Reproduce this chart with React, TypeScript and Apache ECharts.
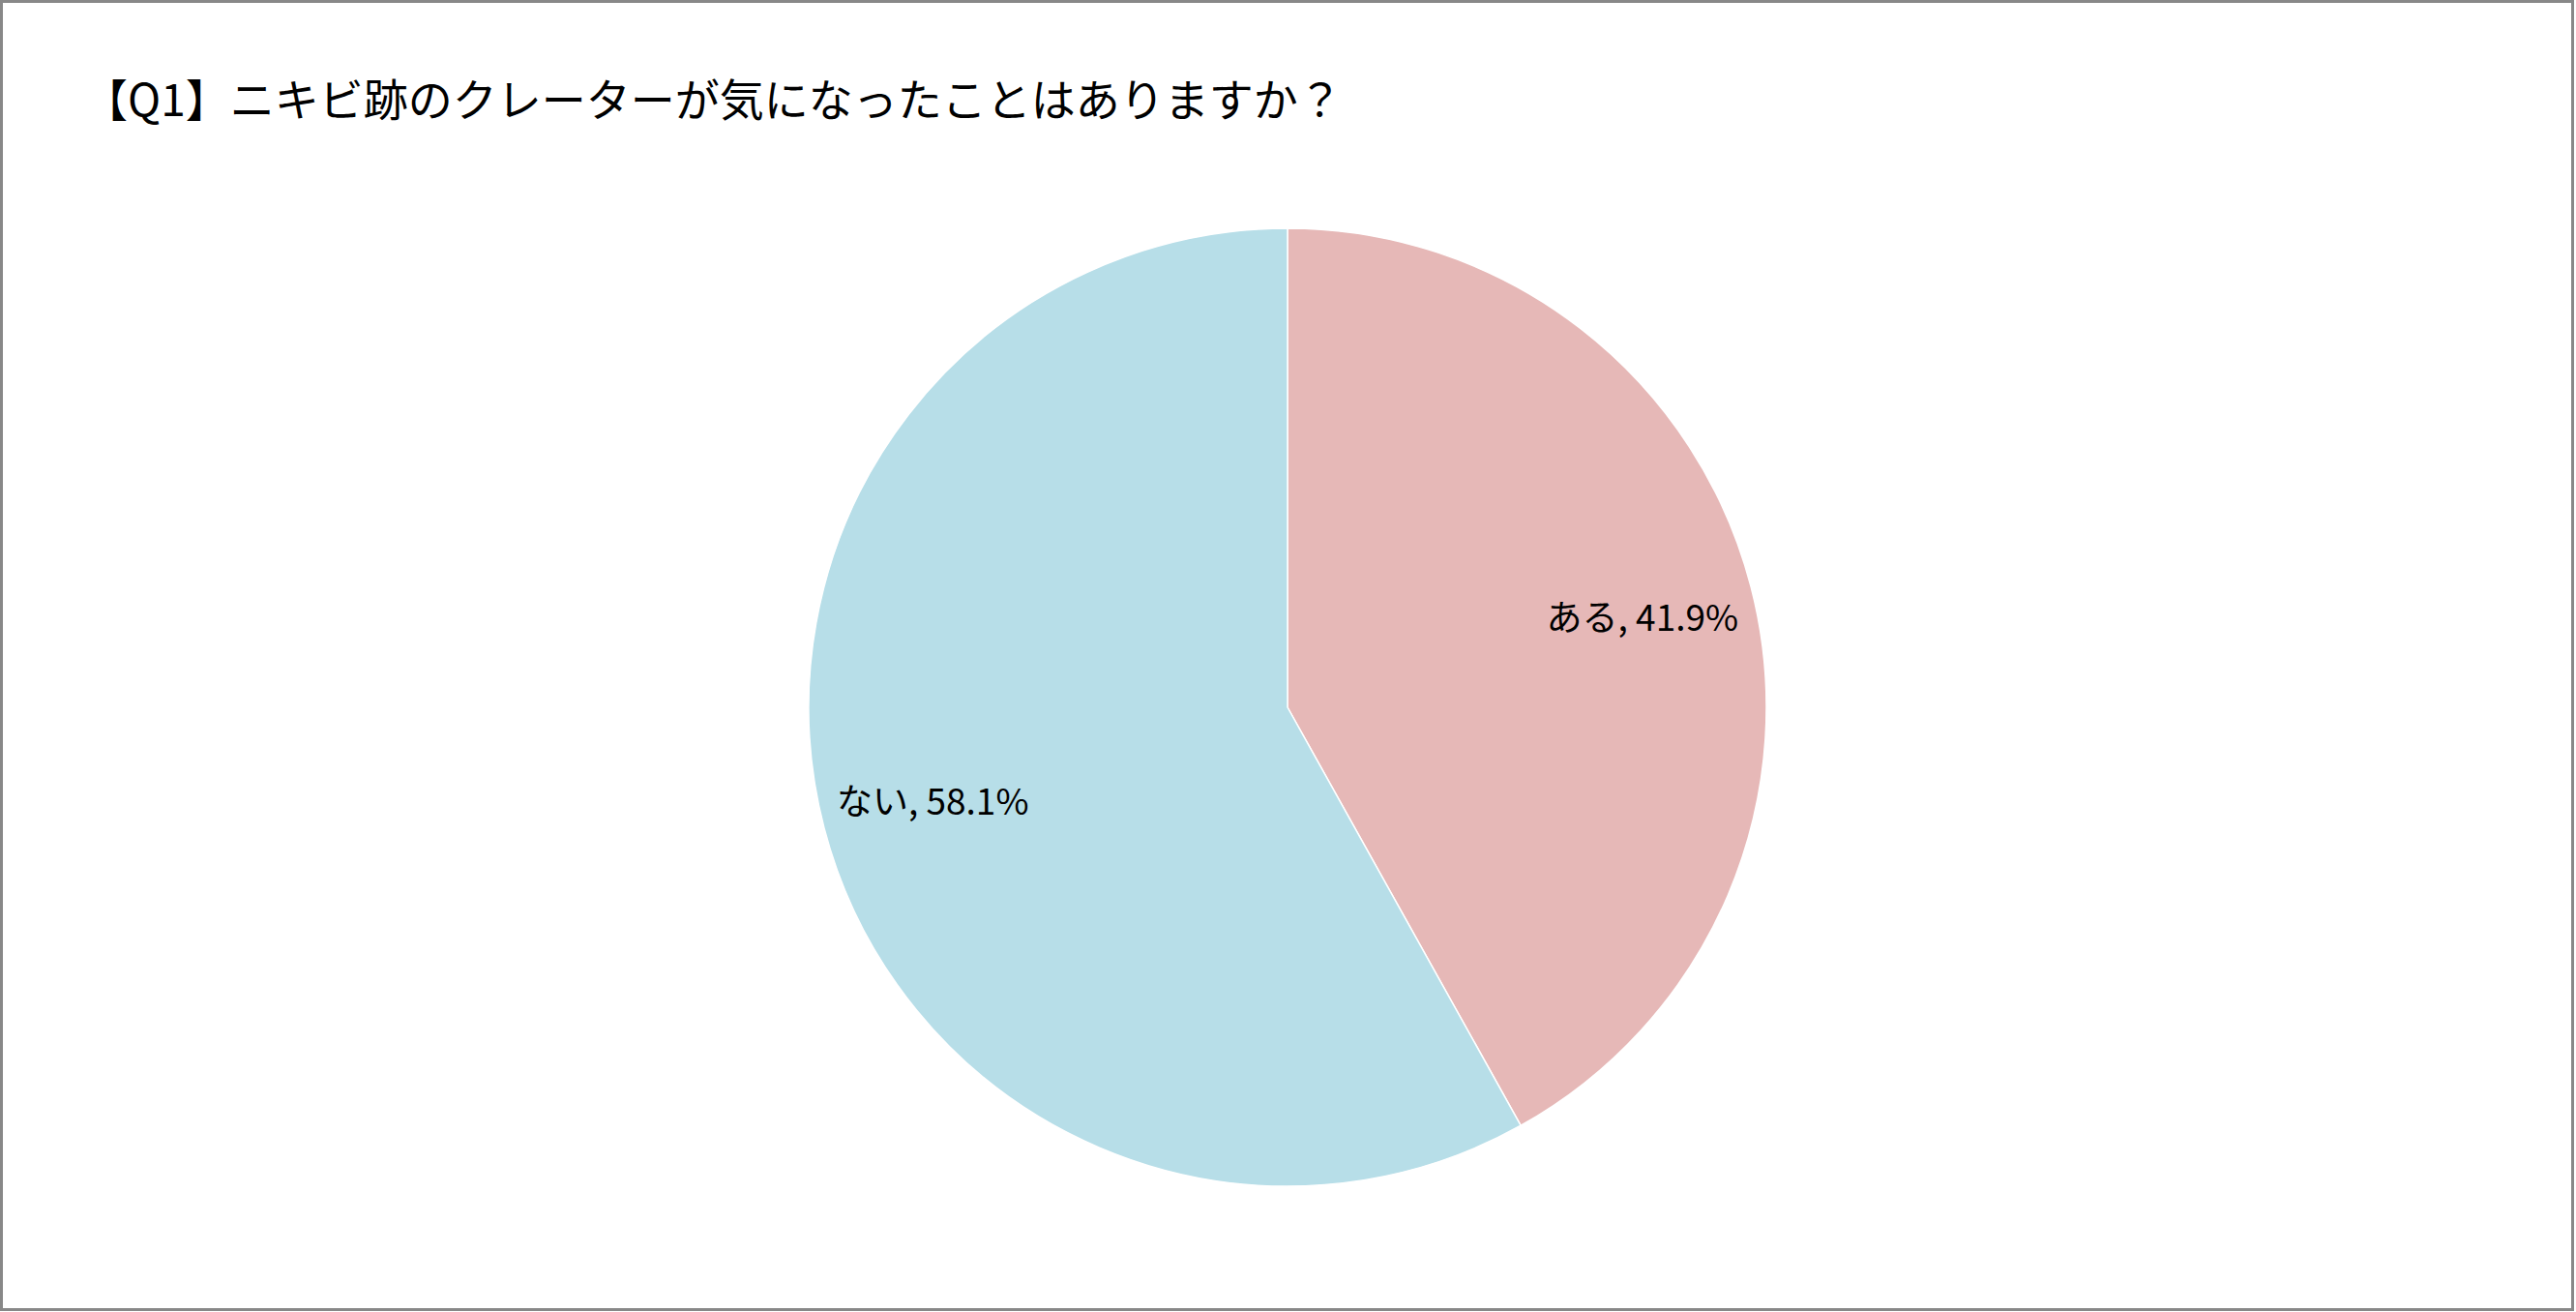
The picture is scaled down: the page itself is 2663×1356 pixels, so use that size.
import React, { useEffect, useRef } from "react";
import * as echarts from "echarts";

const titleText = "【Q1】ニキビ跡のクレーターが気になったことはありますか？";
const categories = ["ある", "ない"];
const values = [41.9, 58.1];
const colors = ["#E6B8B7", "#B7DEE8"];

export default function App() {
  const ref = useRef<HTMLDivElement>(null);
  useEffect(() => {
    const chart = echarts.init(ref.current!, null, { renderer: "svg" });
    const data = categories.map((c, i) => ({
      name: c,
      value: values[i],
      itemStyle: { color: colors[i] },
    }));
    const ghost = categories.map((c, i) => ({
      name: c,
      value: values[i],
      itemStyle: { color: "rgba(0,0,0,0)" },
    }));
    chart.setOption({
      animation: false,
      backgroundColor: "#ffffff",
      title: {
        text: titleText,
        left: 81,
        top: 72,
        textStyle: {
          fontSize: 46,
          fontWeight: "normal",
          color: "#000",
          fontFamily: "'Noto Sans CJK JP', sans-serif",
        },
      },
      graphic: [
        {
          type: "rect",
          shape: { x: 1.5, y: 1.5, width: 2658, height: 1352 },
          style: { fill: "none", stroke: "#888888", lineWidth: 3 },
          silent: true,
        },
      ],
      series: [
        {
          type: "pie",
          center: [1331, 731],
          radius: [0, 495],
          startAngle: 90,
          clockwise: true,
          label: { show: false },
          labelLine: { show: false },
          itemStyle: { borderColor: "#ffffff", borderWidth: 1.5 },
          data,
          silent: true,
        },
        {
          type: "pie",
          center: [1331, 731],
          radius: [0, 752],
          startAngle: 90,
          clockwise: true,
          silent: true,
          z: 5,
          label: {
            show: true,
            position: "inside",
            formatter: (p: any) => `${p.name}, ${p.value.toFixed(1)}%`,
            fontSize: 37,
            color: "#000",
            fontFamily: "'Noto Sans CJK JP', sans-serif",
          },
          labelLine: { show: false },
          itemStyle: { borderWidth: 0 },
          data: ghost,
        },
      ],
    });
    return () => chart.dispose();
  }, []);
  return (
    <div
      ref={ref}
      style={{ position: "fixed", left: 0, top: 0, width: 2663, height: 1356 }}
    />
  );
}
